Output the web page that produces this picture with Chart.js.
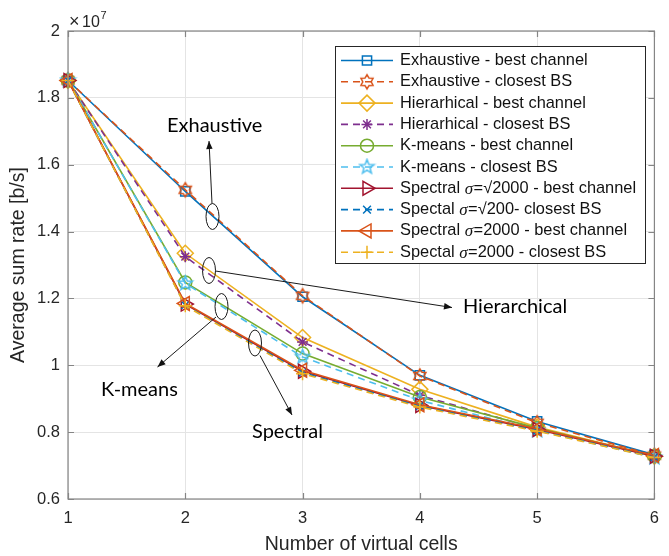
<!DOCTYPE html>
<html>
<head>
<meta charset="utf-8">
<script src="https://cdn.jsdelivr.net/npm/chart.js@4.4.1/dist/chart.umd.min.js"></script>
<style>
html,body{margin:0;padding:0;background:#fff;}
#wrap{width:669px;height:556px;position:relative;}
</style>
</head>
<body>
<div id="wrap"><canvas id="c" width="669" height="556"></canvas></div>
<script>
// ---- Data (y in units of 10^7 b/s) ----
const cells = [1, 2, 3, 4, 5, 6];
const exhaustiveBest    = [1.852, 1.520, 1.205, 0.970, 0.832, 0.732];
const exhaustiveClosest = [1.852, 1.525, 1.208, 0.968, 0.828, 0.730];
const hierBest          = [1.852, 1.335, 1.083, 0.928, 0.815, 0.728];
const hierClosest       = [1.852, 1.325, 1.070, 0.910, 0.810, 0.724];
const kmeansBest        = [1.852, 1.248, 1.035, 0.905, 0.812, 0.728];
const kmeansClosest     = [1.852, 1.245, 1.025, 0.895, 0.805, 0.724];
const specSqrtBest      = [1.852, 1.183, 0.982, 0.880, 0.808, 0.728];
const specSqrtClosest   = [1.852, 1.180, 0.978, 0.878, 0.805, 0.726];
const spec2000Best      = [1.852, 1.185, 0.985, 0.882, 0.810, 0.730];
const spec2000Closest   = [1.852, 1.178, 0.975, 0.875, 0.803, 0.724];
const xTickValues = [1, 2, 3, 4, 5, 6];
const yTickValues = [0.6, 0.8, 1.0, 1.2, 1.4, 1.6, 1.8, 2.0];
const seriesLabels = [
  "Exhaustive - best channel",
  "Exhaustive - closest BS",
  "Hierarhical - best channel",
  "Hierarhical - closest BS",
  "K-means - best channel",
  "K-means - closest BS",
  "Spectral σ=√2000 - best channel",
  "Spectal σ=√200- closest BS",
  "Spectral σ=2000 - best channel",
  "Spectal σ=2000 - closest BS"
];
const seriesValues = [exhaustiveBest, exhaustiveClosest, hierBest, hierClosest, kmeansBest,
  kmeansClosest, specSqrtBest, specSqrtClosest, spec2000Best, spec2000Closest];

// ---- Styles ----
const colors = ['#0072BD','#D95319','#EDB120','#7E2F8E','#77AC30','#4DBEEE','#A2142F','#0072BD','#D95319','#EDB120'];
const dashed = [false,true,false,true,false,true,false,true,false,true];

function starCanvas(n, color, ro, ri) {
  const s = Math.ceil(ro * 2 + 4);
  const cv = document.createElement('canvas');
  cv.width = s; cv.height = s;
  const g = cv.getContext('2d');
  g.strokeStyle = color; g.lineWidth = 1.5; g.lineJoin = 'miter';
  g.beginPath();
  for (let k = 0; k < 2 * n; k++) {
    const r = k % 2 === 0 ? ro : ri;
    const a = -Math.PI / 2 + k * Math.PI / n;
    const px = s / 2 + r * Math.cos(a), py = s / 2 + r * Math.sin(a);
    if (k === 0) g.moveTo(px, py); else g.lineTo(px, py);
  }
  g.closePath(); g.stroke();
  return cv;
}
const hexagram = starCanvas(6, colors[1], 7, 4.2);
const pentagram = starCanvas(5, colors[5], 7.5, 3.2);

const markers = [
  {pointStyle:'rect', radius:6.5, rotation:0},
  {pointStyle:hexagram, radius:7, rotation:0},
  {pointStyle:'rectRot', radius:8, rotation:0},
  {pointStyle:'star', radius:5.5, rotation:0},
  {pointStyle:'circle', radius:6.5, rotation:0},
  {pointStyle:pentagram, radius:7, rotation:0},
  {pointStyle:'triangle', radius:8, rotation:90},
  {pointStyle:'crossRot', radius:5.5, rotation:0},
  {pointStyle:'triangle', radius:8, rotation:-90},
  {pointStyle:'cross', radius:6.5, rotation:0}
];

const N = seriesValues.length;
const datasets = seriesValues.map((vals, i) => ({
  label: seriesLabels[i],
  data: cells.map((c, j) => ({x: c, y: vals[j]})),
  borderColor: colors[i],
  backgroundColor: 'rgba(0,0,0,0)',
  borderWidth: 1.6,
  borderDash: dashed[i] ? [7, 5] : [],
  pointStyle: markers[i].pointStyle,
  pointRadius: markers[i].radius,
  pointRotation: markers[i].rotation,
  pointBorderWidth: 1.5,
  pointBorderColor: colors[i],
  pointBackgroundColor: 'rgba(0,0,0,0)',
  tension: 0,
  clip: false,
  order: N - i
}));

const AX = '#262626';
const GRID = '#e4e4e4';
const BOX = '#858585';

function drawArrow(ctx, x1, y1, x2, y2) {
  ctx.beginPath(); ctx.moveTo(x1, y1); ctx.lineTo(x2, y2); ctx.stroke();
  const a = Math.atan2(y2 - y1, x2 - x1), L = 8, W = 3.2;
  ctx.beginPath();
  ctx.moveTo(x2, y2);
  ctx.lineTo(x2 - L * Math.cos(a) + W * Math.sin(a), y2 - L * Math.sin(a) - W * Math.cos(a));
  ctx.lineTo(x2 - L * Math.cos(a) - W * Math.sin(a), y2 - L * Math.sin(a) + W * Math.cos(a));
  ctx.closePath(); ctx.fill();
}
function ellipse(ctx, cx, cy, rx, ry) {
  ctx.beginPath(); ctx.ellipse(cx, cy, rx, ry, 0, 0, 2 * Math.PI); ctx.stroke();
}

const decor = {
  id: 'decor',
  beforeDraw(chart) {
    const ctx = chart.ctx;
    ctx.save(); ctx.fillStyle = '#fff'; ctx.fillRect(0, 0, chart.width, chart.height); ctx.restore();
  },
  afterDatasetsDraw(chart) {
    const ctx = chart.ctx, a = chart.chartArea;
    const xs = chart.scales.x, ys = chart.scales.y;
    ctx.save();
    // box
    ctx.strokeStyle = BOX; ctx.lineWidth = 1.2;
    ctx.strokeRect(a.left, a.top, a.right - a.left, a.bottom - a.top);
    // inward ticks
    ctx.beginPath();
    xTickValues.forEach(v => {
      const px = Math.round(xs.getPixelForValue(v)) + 0.5;
      ctx.moveTo(px, a.bottom); ctx.lineTo(px, a.bottom - 6);
      ctx.moveTo(px, a.top); ctx.lineTo(px, a.top + 6);
    });
    yTickValues.forEach(v => {
      const py = Math.round(ys.getPixelForValue(v)) + 0.5;
      ctx.moveTo(a.left, py); ctx.lineTo(a.left + 6, py);
      ctx.moveTo(a.right, py); ctx.lineTo(a.right - 6, py);
    });
    ctx.stroke();
    // exponent
    ctx.fillStyle = AX; ctx.textBaseline = 'alphabetic'; ctx.textAlign = 'left';
    ctx.font = '18px "Liberation Sans", Arial, sans-serif';
    ctx.fillText('×', 69, 27);
    ctx.font = '16px "Liberation Sans", Arial, sans-serif';
    ctx.fillText('10', 82, 27);
    ctx.font = '11px "Liberation Sans", Arial, sans-serif';
    ctx.fillText('7', 100.5, 18.5);
    // axis titles
    ctx.font = '19.5px "Liberation Sans", Arial, sans-serif';
    ctx.textAlign = 'center'; ctx.textBaseline = 'middle';
    ctx.fillText('Number of virtual cells', (a.left + a.right) / 2, 545);
    ctx.save();
    ctx.translate(19, (a.top + a.bottom) / 2);
    ctx.rotate(-Math.PI / 2);
    ctx.fillText('Average sum rate [b/s]', 0, 0);
    ctx.restore();

    // annotations
    ctx.strokeStyle = '#1a1a1a'; ctx.fillStyle = '#111'; ctx.lineWidth = 1;
    ellipse(ctx, 212.5, 216.5, 6.5, 13);
    drawArrow(ctx, 212, 203.5, 209, 141);
    ellipse(ctx, 209, 270.5, 6.5, 13);
    drawArrow(ctx, 215.5, 271, 452, 307.5);
    ellipse(ctx, 221.5, 306.5, 6.5, 13);
    drawArrow(ctx, 216, 317, 157.5, 367);
    ellipse(ctx, 255, 343, 6.5, 13);
    drawArrow(ctx, 260, 355.5, 292, 415);
    ctx.font = '20px Lato, "Open Sans", sans-serif';
    ctx.textAlign = 'left'; ctx.textBaseline = 'middle';
    ctx.fillStyle = '#000';
    ctx.fillText('Exhaustive', 167, 126);
    ctx.fillText('Hierarchical', 463, 307);
    ctx.fillText('K-means', 101, 390);
    ctx.fillText('Spectral', 252, 432);

    // legend
    const L = {x: 335, y: 46, w: 310, h: 217};
    ctx.fillStyle = '#fff';
    ctx.fillRect(L.x, L.y, L.w, L.h);
    ctx.strokeStyle = '#262626'; ctx.lineWidth = 1;
    ctx.strokeRect(L.x + 0.5, L.y + 0.5, L.w, L.h);
    const rowH = 21.3, y0 = 60.5;
    chart.data.datasets.forEach((ds, i) => {
      const y = y0 + i * rowH;
      ctx.save();
      ctx.strokeStyle = ds.borderColor; ctx.lineWidth = ds.borderWidth;
      ctx.setLineDash(ds.borderDash);
      ctx.beginPath(); ctx.moveTo(341, y); ctx.lineTo(393, y); ctx.stroke();
      ctx.setLineDash([]);
      ctx.lineWidth = ds.pointBorderWidth;
      ctx.strokeStyle = ds.pointBorderColor; ctx.fillStyle = 'rgba(0,0,0,0)';
      Chart.helpers.drawPoint(ctx, {pointStyle: ds.pointStyle, radius: ds.pointRadius, rotation: ds.pointRotation, borderWidth: ds.pointBorderWidth}, 367, y);
      ctx.restore();
      // label with italic sigma
      let tx = 400;
      const parts = ds.label.split('σ');
      ctx.fillStyle = '#111'; ctx.textAlign = 'left'; ctx.textBaseline = 'middle';
      parts.forEach((p, k) => {
        if (k > 0) {
          ctx.font = 'italic 17px "Liberation Serif", serif';
          ctx.fillText('σ', tx, y + 1);
          tx += ctx.measureText('σ').width + 0.5;
        }
        ctx.font = '16.4px "Liberation Sans", Arial, sans-serif';
        ctx.fillText(p, tx, y);
        tx += ctx.measureText(p).width;
      });
    });
    ctx.restore();
  }
};

new Chart(document.getElementById('c'), {
  type: 'line',
  data: {datasets},
  options: {
    responsive: false,
    animation: false,
    devicePixelRatio: 1,
    layout: {padding: {top: 31, right: 9, left: 0, bottom: 0}},
    plugins: {legend: {display: false}, tooltip: {enabled: false}},
    scales: {
      x: {
        type: 'linear', min: 1, max: 6,
        afterBuildTicks: s => { s.ticks = xTickValues.map(v => ({value: v})); },
        afterFit: s => { s.height = 57; },
        grid: {color: GRID, lineWidth: 1, drawTicks: false},
        border: {display: false},
        ticks: {color: AX, padding: 10, font: {family: '"Liberation Sans", Arial, sans-serif', size: 16.5},
          callback: v => String(v), maxRotation: 0}
      },
      y: {
        type: 'linear', min: 0.6, max: 2.0,
        afterBuildTicks: s => { s.ticks = yTickValues.map(v => ({value: v})); },
        afterFit: s => { s.width = 68; },
        grid: {color: GRID, lineWidth: 1, drawTicks: false},
        border: {display: false},
        ticks: {color: AX, padding: 8, font: {family: '"Liberation Sans", Arial, sans-serif', size: 16.5},
          callback: v => String(Number(v.toFixed(1)))}
      }
    }
  },
  plugins: [decor]
});
</script>
</body>
</html>
